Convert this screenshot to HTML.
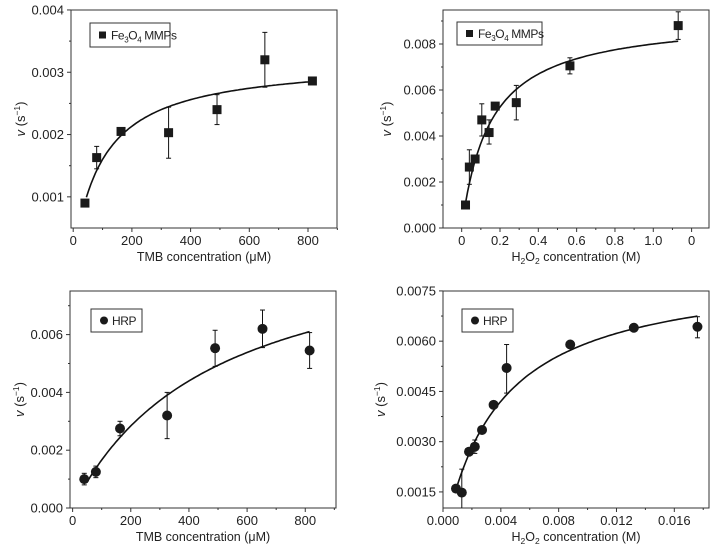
<!DOCTYPE html><html><head><style>body{margin:0;background:#fff}svg{display:block}text{font-family:"Liberation Sans",sans-serif;fill:#222}</style></head><body>
<svg id="s" width="720" height="554" xmlns="http://www.w3.org/2000/svg"></svg>
<script>
const S=document.getElementById('s');let h='';
function P(c){
const {L,R,T,B}=c;
const X=v=>L+(v-c.xmin)*c.xs, Y=v=>B-(v-c.ymin)*c.ys;
h+=`<rect x="${L}" y="${T}" width="${R-L}" height="${B-T}" fill="none" stroke="#333" stroke-width="1"/>`;
for(let v=c.yt0;v<=c.ymax+1e-9;v+=c.ym){const y=Y(v);if(y<T-0.5||y>B+0.5)continue;const maj=Math.abs(((v-c.yt0)/c.ymaj)-Math.round((v-c.yt0)/c.ymaj))<1e-6;h+=`<line x1="${L}" x2="${L-(maj?4:2)}" y1="${y}" y2="${y}" stroke="#333"/>`;if(maj)h+=`<text x="${L-7}" y="${y+4.5}" font-size="13" text-anchor="end">${v.toFixed(c.yd)}</text>`;}
for(let v=c.xt0;v<=c.xmax+1e-9;v+=c.xm){const x=X(v);if(x<L-0.5||x>R+0.5)continue;const maj=Math.abs(((v-c.xt0)/c.xmaj)-Math.round((v-c.xt0)/c.xmaj))<1e-6;h+=`<line x1="${x}" x2="${x}" y1="${B}" y2="${B+(maj?4:2)}" stroke="#333"/>`;if(maj)h+=`<text x="${x}" y="${B+17}" font-size="13" text-anchor="middle">${c.xf(v)}</text>`;}
h+=`<text x="${(L+R)/2}" y="${B+33}" font-size="12.5" text-anchor="middle">${c.xl}</text>`;
const cy=(T+B)/2;h+=`<text transform="translate(${L-c.yo},${cy}) rotate(-90)" font-size="13" text-anchor="middle"><tspan font-style="italic">v</tspan> (s<tspan font-size="8.5" dy="-5">−1</tspan><tspan dy="5">)</tspan></text>`;
let d='';for(let i=0;i<=100;i++){const v=c.f0+(c.f1-c.f0)*i/100;const y=c.V*v/(c.K+v);d+=(i?'L':'M')+X(v).toFixed(1)+','+Y(y).toFixed(1);}
h+=`<path d="${d}" fill="none" stroke="#111" stroke-width="1.6"/>`;
for(const p of c.d){const x=X(p[0]),y=Y(p[1]);if(p[2]!==undefined){const y1=Y(p[2]),y2=Math.min(Y(p[3]),B);h+=`<line x1="${x}" x2="${x}" y1="${y1}" y2="${y2}" stroke="#111"/><line x1="${x-2.5}" x2="${x+2.5}" y1="${y1}" y2="${y1}" stroke="#111"/>`;if(Y(p[3])<B)h+=`<line x1="${x-2.5}" x2="${x+2.5}" y1="${y2}" y2="${y2}" stroke="#111"/>`;}
h+=c.sq?`<rect x="${x-4.5}" y="${y-4.5}" width="9" height="9" fill="#1a1a1a"/>`:`<circle cx="${x}" cy="${y}" r="5" fill="#1a1a1a"/>`;}
const g=c.lg;h+=`<rect x="${g[0]}" y="${g[1]}" width="${g[2]-g[0]}" height="${g[3]-g[1]}" fill="#fff" stroke="#333"/>`;
const my=(g[1]+g[3])/2;h+=c.sq?`<rect x="${g[0]+9}" y="${my-3.5}" width="7" height="7" fill="#1a1a1a"/>`:`<circle cx="${g[0]+13}" cy="${my}" r="4" fill="#1a1a1a"/>`;
h+=`<text x="${g[0]+21}" y="${my+4.5}" font-size="12" letter-spacing="-0.4">${c.lt}</text>`;
}
const fe='Fe<tspan font-size="8" dy="3">3</tspan><tspan dy="-3">O</tspan><tspan font-size="8" dy="3">4</tspan><tspan dy="-3"> MMPs</tspan>';
const h2='H<tspan font-size="8.5" dy="3">2</tspan><tspan dy="-3">O</tspan><tspan font-size="8.5" dy="3">2</tspan><tspan dy="-3"> concentration (M)</tspan>';
P({L:71,R:337,T:10,B:228,xmin:-7.5,xs:0.2935,ymin:0.0005,ys:62300,ymax:0.0042,yt0:0.001,ym:0.0005,ymaj:0.001,yd:3,xmax:900,xt0:0,xm:100,xmaj:200,xf:v=>Math.round(v),xl:'TMB concentration (μM)',yo:46,V:0.0032,K:100,f0:45,f1:815,sq:1,lg:[90,23,170,47],lt:fe,
d:[[40,0.0009],[80,0.00163,0.00181,0.00145],[163,0.00205],[325,0.00203,0.00244,0.00162],[490,0.0024,0.00264,0.00216],[653,0.0032,0.00364,0.00276],[815,0.00286]]});
P({L:443,R:709,T:10,B:228,xmin:-0.0975,xs:191.6,ymin:0,ys:23000,ymax:0.0095,yt0:0,ym:0.001,ymaj:0.002,yd:3,xmax:1.3,xt0:0,xm:0.1,xmaj:0.2,xf:v=>v>1.1?'0':(v<0.05?'0':v.toFixed(1)),xl:h2,yo:52,V:0.0092,K:0.15,f0:0.02,f1:1.13,sq:1,lg:[457,22,542,45],lt:fe,
d:[[0.02,0.001],[0.04,0.00265,0.0034,0.0019],[0.07,0.003],[0.105,0.0047,0.0054,0.004],[0.143,0.00415,0.0047,0.00365],[0.175,0.0053],[0.285,0.00545,0.0062,0.0047],[0.565,0.00705,0.0074,0.0067],[1.13,0.0088,0.0094,0.0082]]});
P({L:70,R:336,T:291,B:508,xmin:-9,xs:0.2908,ymin:0,ys:28900,ymax:0.0075,yt0:0,ym:0.001,ymaj:0.002,yd:3,xmax:900,xt0:0,xm:100,xmaj:200,xf:v=>Math.round(v),xl:'TMB concentration (μM)',yo:46,V:0.00975,K:487,f0:50,f1:815,sq:0,lg:[91,309,142,332],lt:'HRP',
d:[[40,0.001,0.0012,0.0008],[80,0.00125,0.00145,0.00105],[163,0.00275,0.003,0.0025],[325,0.0032,0.004,0.0024],[490,0.00553,0.00615,0.0049],[653,0.0062,0.00685,0.00555],[815,0.00545,0.00607,0.00483]]});
P({L:443,R:709,T:291,B:508,xmin:0,xs:14457,ymin:0.00102,ys:33500,ymax:0.0075,yt0:0.0015,ym:0.00075,ymaj:0.0015,yd:4,xmax:0.0185,xt0:0,xm:0.002,xmaj:0.004,xf:v=>v.toFixed(3),xl:h2,yo:58,V:0.00821,K:0.00381,f0:0.0009,f1:0.0176,sq:0,lg:[462,309,513,332],lt:'HRP',
d:[[0.0009,0.0016],[0.0013,0.00148,0.00218,0.0005],[0.0018,0.0027],[0.0022,0.00285,0.00305,0.00265],[0.0027,0.00335],[0.0035,0.0041],[0.0044,0.0052,0.0059,0.00445],[0.0088,0.0059],[0.0132,0.0064],[0.0176,0.00643,0.00673,0.0061]]});
S.innerHTML=h;
</script></body></html>
